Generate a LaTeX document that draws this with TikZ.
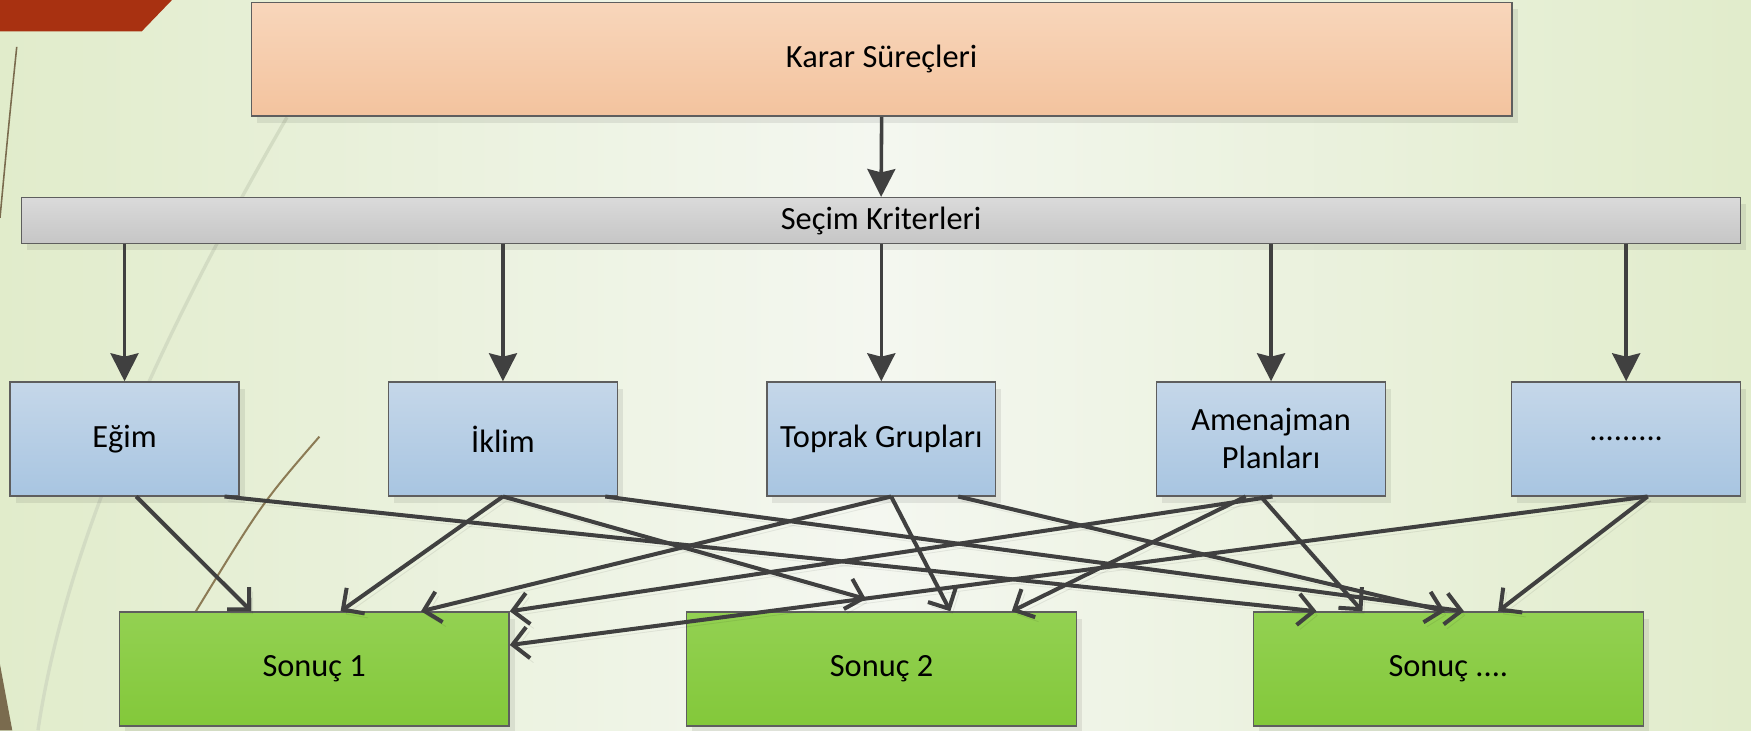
\documentclass[tikz,border=0pt]{standalone}
\usepackage{fontspec}
\setmainfont{Carlito}
\usetikzlibrary{arrows.meta,calc,shadows}
\definecolor{bgedge}{HTML}{E1ECCB}
\definecolor{bgmid}{HTML}{F4F7F0}
\definecolor{redtab}{HTML}{A83111}
\definecolor{bladedark}{HTML}{7A6B4E}
\definecolor{bladepale}{HTML}{D3DCC3}
\definecolor{bladebrown}{HTML}{8C7B55}
\definecolor{boxline}{HTML}{5E5E5E}
\definecolor{arrowcol}{HTML}{404040}
\definecolor{orangetop}{HTML}{F8D6BB}
\definecolor{orangebot}{HTML}{F3C39E}
\definecolor{graytop}{HTML}{DADADA}
\definecolor{graybot}{HTML}{C6C6C6}
\definecolor{bluetop}{HTML}{C5D7E9}
\definecolor{bluebot}{HTML}{A8C5E1}
\definecolor{greentop}{HTML}{93D152}
\definecolor{greenbot}{HTML}{83C83A}
\tikzset{
  basebox/.style={draw=boxline, line width=0.6pt, inner sep=0pt, align=center,
    drop shadow={shadow xshift=2.5pt, shadow yshift=-3pt, fill=black, opacity=0.08}},
  kararbox/.style={basebox, top color=orangetop, bottom color=orangebot,
    minimum width=564.5pt, minimum height=51pt},
  secimbox/.style={basebox, top color=graytop, bottom color=graybot,
    minimum width=769.8pt, minimum height=20.5pt},
  critbox/.style={basebox, top color=bluetop, bottom color=bluebot,
    minimum width=102.5pt, minimum height=51pt},
  resbox/.style={basebox, top color=greentop, bottom color=greenbot,
    minimum width=174.5pt, minimum height=51pt},
  varrow/.style={draw=arrowcol, line width=1.6pt,
    -{Stealth[length=12.5pt,width=12.5pt,inset=1.5pt]}},
  cross/.style={draw=arrowcol, line width=1.8pt,
    -{Straight Barb[length=7pt,width=14pt,line width=1.8pt]},
    preaction={draw=black, opacity=0.07, transform canvas={shift={(1.5pt,-2pt)}}}},
}
\begin{document}
\begin{tikzpicture}[x=0.5pt, y=-0.5pt, font=\fontsize{14.5}{17}\selectfont]
\useasboundingbox (0,0) rectangle (1568,654);
% background
\shade[left color=bgedge, right color=bgedge, middle color=bgmid] (0,0) rectangle (1568,654);
\fill[redtab] (0,0) -- (154,0) -- (127,28) -- (0,28) -- cycle;
\draw[bladedark, line width=0.7pt] (15,42) .. controls (8,110) .. (0,195);
\draw[bladepale, line width=1.5pt] (257,105) .. controls (150,290) and (60,480) .. (34,654);
\draw[bladebrown, line width=0.9pt] (286,391) .. controls (235,450) .. (175,548);
\fill[bladedark] (0,595) -- (11,654) -- (0,654) -- cycle;
% boxes
\node[kararbox] (karar) at (789.5,53) {Karar Süreçleri};
\node[secimbox] (secim) at (789,197.5) {Seçim Kriterleri};
\node[critbox] (egim) at (111.5,393) {Eğim};
\node[critbox] (iklim) at (450.4,393) {İklim};
\node[critbox] (toprak) at (789.2,393) {Toprak Grupları};
\node[critbox] (amen) at (1138.2,393) {Amenajman\\Planları};
\node[critbox] (dots) at (1456.2,393) {.........};
\node[resbox] (s1) at (281.4,599) {Sonuç 1};
\node[resbox] (s2) at (789.4,599) {Sonuç 2};
\node[resbox] (s3) at (1297,599) {Sonuç ....};
% vertical arrows
\draw[varrow] (karar.south) -- (secim.north);
\foreach \n in {egim,iklim,toprak,amen,dots}
  \draw[varrow] (secim.south -| \n.north) -- (\n.north);
% cross arrows
\draw[cross] ($(egim.south)+(10.5,0)$) -- ($(s1.north)+(-56.4,0)$);
\draw[cross] ($(egim.south)+(89.5,0)$) -- ($(s3.north)+(-118,0)$);
\draw[cross] (iklim.south) -- ($(s1.north)+(23.6,0)$);
\draw[cross] (iklim.south) -- ($(s2.north)+(-14,-11)$);
\draw[cross] ($(iklim.south)+(91.6,0)$) -- ($(s3.north)+(14,0)$);
\draw[cross] ($(toprak.south)+(8.8,0)$) -- ($(s1.north)+(95.6,0)$);
\draw[cross] ($(toprak.south)+(8.8,0)$) -- ($(s2.north)+(61.6,0)$);
\draw[cross] ($(toprak.south)+(68.8,0)$) -- ($(s3.north)+(-3,0)$);
\draw[cross] ($(amen.south)+(1.3,0)$) -- (s1.north east);
\draw[cross] ($(amen.south)+(-9.2,0)$) -- ($(s3.north)+(-77,0)$);
\draw[cross] ($(amen.south)+(-22.7,0)$) -- ($(s2.north)+(116.6,0)$);
\draw[cross] ($(dots.south)+(19.2,0)$) -- ($(s1.east)+(0,-21.4)$);
\draw[cross] ($(dots.south)+(19.2,0)$) -- ($(s3.north)+(44.5,0)$);
\end{tikzpicture}
\end{document}
